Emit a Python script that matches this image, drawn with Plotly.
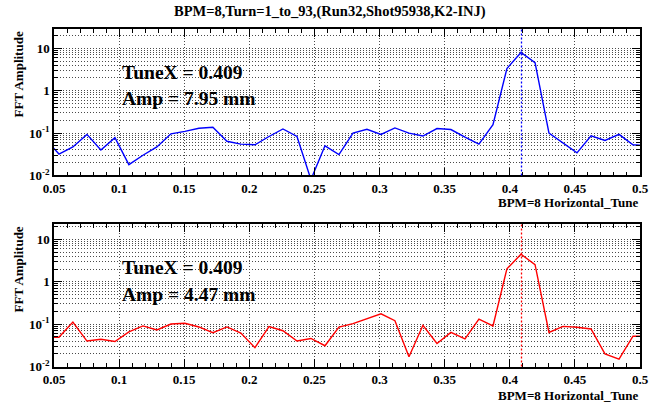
import plotly.graph_objects as go

# ---- data -------------------------------------------------------------
TITLE = "BPM=8,Turn=1_to_93,(Run32,Shot95938,K2-INJ)"
X_TITLE = "BPM=8 Horizontal_Tune"
Y_TITLE = "FFT Amplitude"

# FFT bins (k/93, k = 4..47) of the 93-turn horizontal orbit
TUNE = [0.0430, 0.0538, 0.0645, 0.0753, 0.0860, 0.0968, 0.1075, 0.1183,
        0.1290, 0.1398, 0.1505, 0.1613, 0.1720, 0.1828, 0.1935, 0.2043,
        0.2151, 0.2258, 0.2366, 0.2473, 0.2581, 0.2688, 0.2796, 0.2903,
        0.3011, 0.3118, 0.3226, 0.3333, 0.3441, 0.3548, 0.3656, 0.3763,
        0.3871, 0.3978, 0.4086, 0.4194, 0.4301, 0.4409, 0.4516, 0.4624,
        0.4731, 0.4839, 0.4946, 0.5054]

AMP_UPPER = [0.075, 0.032, 0.047, 0.093, 0.040, 0.078, 0.018, 0.030,
             0.047, 0.096, 0.110, 0.130, 0.137, 0.064, 0.055, 0.053,
             0.083, 0.125, 0.083, 0.008, 0.050, 0.031, 0.100, 0.123,
             0.093, 0.132, 0.100, 0.085, 0.128, 0.121, 0.080, 0.055,
             0.158, 3.33, 7.95, 4.57, 0.100, 0.058, 0.034, 0.086,
             0.067, 0.093, 0.053, 0.050]

AMP_LOWER = [0.049, 0.049, 0.112, 0.040, 0.044, 0.039, 0.066, 0.091,
             0.073, 0.101, 0.105, 0.086, 0.063, 0.086, 0.062, 0.028,
             0.088, 0.070, 0.040, 0.046, 0.031, 0.085, 0.103, 0.132,
             0.176, 0.121, 0.017, 0.094, 0.035, 0.064, 0.045, 0.132,
             0.091, 2.03, 4.47, 2.55, 0.064, 0.089, 0.085, 0.077,
             0.020, 0.015, 0.052, 0.052]

PEAK_TUNE = [0.409, 0.409]

X_TICK_VALUES = [0.05, 0.1, 0.15, 0.2, 0.25, 0.3, 0.35, 0.4, 0.45, 0.5]
X_TICK_TEXT = ["0.05", "0.1", "0.15", "0.2", "0.25", "0.3", "0.35", "0.4", "0.45", "0.5"]
Y_TICK_VALUES = [0.01, 0.1, 1, 10]
Y_TICK_TEXT = ["10<sup>-2</sup>", "10<sup>-1</sup>", "1", "10"]

# ---- styling ----------------------------------------------------------
FONT = "Liberation Serif"
W, H = 660, 403
L, R = 54, 20
PANELS = [
    dict(amp=AMP_UPPER, color="#0000ff", top=30, bottom=179, ymax=1.446,
         tune=PEAK_TUNE[0], xtitle_off=28),
    dict(amp=AMP_LOWER, color="#ff0000", top=229, bottom=374, ymax=1.353,
         tune=PEAK_TUNE[1], xtitle_off=30),
]

GRID_COLOR = "#4a4a4a"
GRID_DASH = "1px,2px"

fig = go.Figure()
layout = dict(
    width=W, height=H,
    margin=dict(l=L, r=R, t=0, b=0),
    paper_bgcolor="white", plot_bgcolor="white",
    showlegend=False,
    font=dict(family=FONT, color="black"),
)
annotations = []
shapes = []

tickfont = dict(family=FONT, size=13, color="black", weight="bold")
grid = dict(showgrid=True, gridcolor=GRID_COLOR, gridwidth=1, griddash=GRID_DASH)

for i, p in enumerate(PANELS, start=1):
    xa = "x" if i == 1 else f"x{i}"
    ya = "y" if i == 1 else f"y{i}"
    dom = [1 - p["bottom"] / H, 1 - p["top"] / H]
    ph = p["bottom"] - p["top"]

    fig.add_trace(go.Scatter(
        x=TUNE, y=p["amp"], mode="lines",
        line=dict(color=p["color"], width=1.4),
        xaxis=xa, yaxis=ya, hoverinfo="skip",
    ))

    layout["xaxis" if i == 1 else f"xaxis{i}"] = dict(
        domain=[0, 1], anchor=ya, range=[0.05, 0.5],
        tickmode="array", tickvals=X_TICK_VALUES, ticktext=X_TICK_TEXT,
        ticks="inside", ticklen=8, tickcolor="black", tickwidth=1,
        minor=dict(dtick=0.01, tick0=0, ticks="inside", ticklen=4,
                   tickcolor="black", showgrid=False),
        showline=True, linecolor="black", linewidth=1.5, mirror="ticks",
        zeroline=False, tickfont=tickfont, **grid,
    )
    layout["yaxis" if i == 1 else f"yaxis{i}"] = dict(
        domain=dom, anchor=xa, type="log", range=[-2, p["ymax"]],
        tickmode="array", tickvals=Y_TICK_VALUES, ticktext=Y_TICK_TEXT,
        ticks="inside", ticklen=8, tickcolor="black", tickwidth=1,
        minor=dict(dtick="D1", ticks="inside", ticklen=4, tickcolor="black",
                   showgrid=True, gridcolor=GRID_COLOR, gridwidth=1, griddash=GRID_DASH),
        showline=True, linecolor="black", linewidth=1.5, mirror="ticks",
        zeroline=False, tickfont=tickfont, **grid,
    )

    # peak marker
    shapes.append(dict(
        type="line", xref=xa, yref=f"{ya} domain",
        x0=p["tune"], x1=p["tune"], y0=0, y1=1,
        line=dict(color=p["color"], width=1.3, dash="2px,2px"),
    ))

    peak = max(p["amp"])
    text_font = dict(family=FONT, size=19.5, color="black", weight="bold")
    line1_y = (p["bottom"] - (p["top"] + 43.5)) / ph
    line2_y = (p["bottom"] - (p["top"] + 71)) / ph
    annotations += [
        dict(text=f"TuneX = {p['tune']:.3f}", xref=f"{xa} domain", yref=f"{ya} domain",
             x=(120 - L) / (W - L - R), y=line1_y, xanchor="left", yanchor="middle",
             showarrow=False, font=text_font),
        dict(text=f"Amp = {peak:.2f} mm", xref=f"{xa} domain", yref=f"{ya} domain",
             x=(120 - L) / (W - L - R), y=line2_y, xanchor="left", yanchor="middle",
             showarrow=False, font=text_font),
        dict(text=Y_TITLE, xref="paper", yref=f"{ya} domain",
             x=(18 - L) / (W - L - R), y=1, xanchor="center", yanchor="top",
             textangle=-90, showarrow=False,
             font=dict(family=FONT, size=13, color="black", weight="bold")),
        dict(text=X_TITLE, xref=f"{xa} domain", yref=f"{ya} domain",
             x=1, y=-p["xtitle_off"] / ph, xanchor="right", yanchor="middle",
             showarrow=False,
             font=dict(family=FONT, size=13, color="black", weight="bold")),
    ]

annotations.append(dict(
    text=TITLE, xref="paper", yref="paper",
    x=(330 - L) / (W - L - R), y=1 - 12 / H, xanchor="center", yanchor="middle",
    showarrow=False, font=dict(family=FONT, size=14.5, color="black", weight="bold"),
))

layout["annotations"] = annotations
layout["shapes"] = shapes
fig.update_layout(**layout)
fig.write_html("out.html")
